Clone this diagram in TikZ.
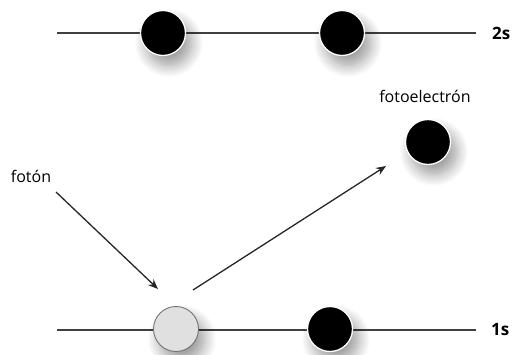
\documentclass[tikz,border=0pt]{standalone}
\usepackage{fontspec}
\setmainfont{Open Sans}
\usetikzlibrary{
  arrows.meta,
  shadows.blur
}
\tikzset{
  level/.style={
    draw=black!75,
    line width=1.8pt
  },
  electron/.style={
    circle,
    fill=black,
    draw=white,
    line width=1.3pt,
    minimum size=45pt,
    inner sep=0pt,
    blur shadow={shadow xshift=6pt, shadow yshift=-10pt, shadow blur steps=12, shadow opacity=40, shadow blur radius=12pt}
  },
  hole/.style={
    electron,
    fill=black!12,
    draw=black!55,
    line width=0.9pt
  },
  ray/.style={
    -{Stealth[length=10pt,width=8pt]},
    line width=1.3pt,
    black!85
  },
  lbl/.style={font=\fontsize{16}{18}\selectfont, inner sep=0pt},
  shell/.style={font=\bfseries\fontsize{17}{19}\selectfont, inner sep=0pt, anchor=west}
}

\begin{document}
\begin{tikzpicture}[x=1pt, y=-1pt]
  \useasboundingbox (0,0) rectangle (530,355);
  % niveles
  \coordinate (top-a) at (57,33);
  \coordinate (top-b) at (476,33);
  \coordinate (bot-a) at (57,330);
  \coordinate (bot-b) at (476,330);
  \draw[level] (top-a) -- (top-b);
  \draw[level] (bot-a) -- (bot-b);
  \node[shell] (lbl-2s) at (492,33) {2s};
  \node[shell] (lbl-1s) at (491,330) {1s};
  % electrones
  \node[electron] (e2-1) at (163,33) {};
  \node[electron] (e2-2) at (342,33) {};
  \node[hole] (hueco) at (176,329) {};
  \node[electron] (e1-2) at (330,329) {};
  \node[electron] (foto-e) at (428,142) {};
  % textos
  \node[lbl] (lbl-foto-e) at (425,96) {fotoelectrón};
  \node[lbl] (lbl-foton) at (31,176) {fotón};
  \coordinate (foton-in) at (56,192);
  \coordinate (foton-end) at (158,289);
  \coordinate (salida) at (193,290);
  \coordinate (llegada) at (386,166);
  \draw[ray] (foton-in) -- (foton-end);
  \draw[ray] (salida) -- (llegada);
\end{tikzpicture}
\end{document}
